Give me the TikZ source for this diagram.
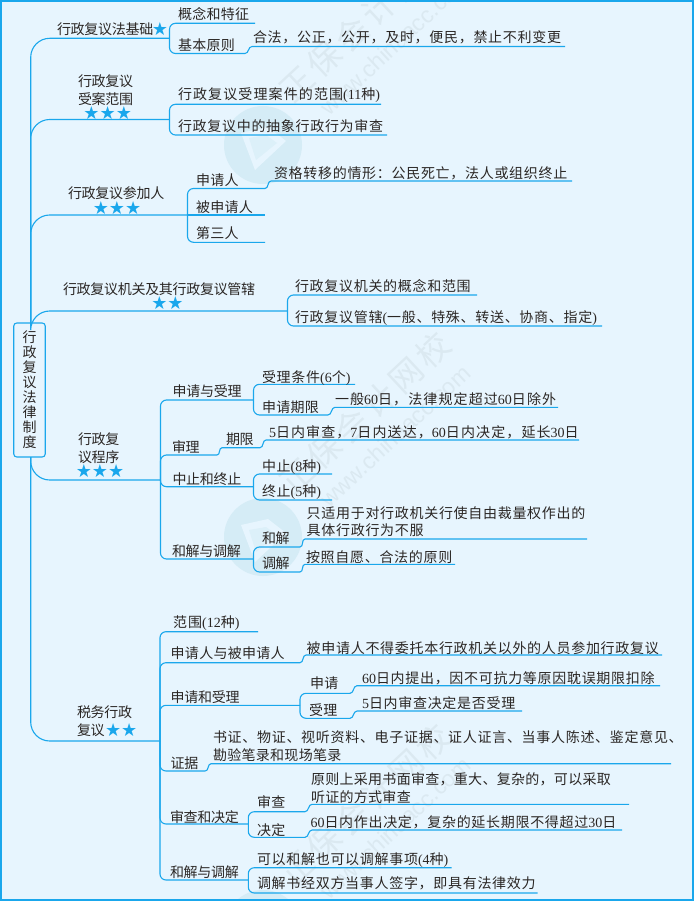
\documentclass[tikz,border=0pt]{standalone}
\usepackage{fontspec}
\setmainfont{Noto Sans CJK SC}
\newfontfamily\fwider[LetterSpace=8]{Noto Sans CJK SC}
\newfontfamily\fwide[LetterSpace=5]{Noto Sans CJK SC}
\newfontfamily\fmid[LetterSpace=2.1]{Noto Sans CJK SC}
\newfontfamily\ftight[LetterSpace=-2.1]{Noto Sans CJK SC}
\newfontfamily\fwm[LetterSpace=12]{Noto Sans CJK SC}
\newfontfamily\latf{Liberation Serif}
\newfontfamily\wmlat{Liberation Sans}
\newfontfamily\starf{DejaVu Sans}
\newcommand{\Lt}[1]{{\latf #1}}
\definecolor{bgc}{HTML}{E7F5FE}
\definecolor{wirec}{HTML}{1AA7EC}
\definecolor{inkc}{HTML}{2A2624}
\definecolor{wmc}{HTML}{DBE9F1}
\definecolor{discc}{HTML}{D5ECF6}
\tikzset{
  wire/.style={draw=wirec,line width=1.1pt,rounded corners=6pt},
  bigwire/.style={draw=wirec,line width=1.1pt,rounded corners=19pt},
  lab/.style={inner sep=0pt,outer sep=0pt,anchor=base west,text=inkc},
  wider/.style={lab,font=\fwider\fontsize{14}{15}\selectfont},
  wide/.style={lab,font=\fwide\fontsize{14}{15}\selectfont},
  mid/.style={lab,font=\fmid\fontsize{14}{15}\selectfont},
  tight/.style={lab,font=\ftight\fontsize{14}{15}\selectfont},
  rootbox/.style={draw=wirec,line width=1.1pt,rounded corners=3pt,minimum width=31.5pt,minimum height=134pt,inner sep=0pt,align=center,text=inkc,font=\fmid\fontsize{14}{15}\selectfont},
  stars/.style={inner sep=0pt,text=wirec,font=\starf\fontsize{18}{18}\selectfont},
  wmcn/.style={text=wmc,inner sep=0pt,rotate=43,font=\fwm\fontsize{33}{33}\selectfont},
  wmen/.style={text=wmc,inner sep=0pt,rotate=43,font=\wmlat\fontsize{23}{23}\selectfont},
}
\newcommand{\tx}[5]{\node[#2] (#1) at ({#3},{#4+5.3}) {#5};}
\begin{document}
\begin{tikzpicture}[x=1pt,y=-1pt]
\useasboundingbox (0,0) rectangle (694,901);
\fill[bgc] (0,0) rectangle (694,901);
% watermarks
\begin{scope}
\clip (0,0) rectangle (694,901);
\foreach \o in {-392,0,392}{
  \fill[discc] (263,{537+\o}) circle (39);
  \fill[bgc] (241,{525+\o}) -- (268,{519+\o}) -- (286,{533+\o}) -- (255,{562+\o}) -- cycle;
  \fill[discc!60!bgc] (249,{530+\o}) -- (266,{527+\o}) -- (277,{535+\o}) -- (256,{552+\o}) -- cycle;
  \node[wmcn] at (365,{413+\o}) {正保会计网校};
  \node[wmen] at (395,{436+\o}) {www.chinaacc.com};
}
\end{scope}
\draw[wirec,line width=2pt] (1,1) rectangle (693,900);

% root
\node[rootbox] (root) at (29.5,390) {行\\政\\复\\议\\法\\律\\制\\度};
\coordinate (tu) at (30.7,323);
\coordinate (td) at (30.7,457);

% branch 1
\coordinate (f1) at (169.5,38.3);
\coordinate (e11) at (255,23.3);
\coordinate (e12) at (245,53.5);
\coordinate (s12) at (252,46.5);
\coordinate (r12) at (565,46.5);
\draw[bigwire] (tu) |- (f1);
\draw[wire] (e11) -| (f1) |- (e12);
\draw[wire,rounded corners=0pt] (e12) to[out=0,in=180] (s12) -- (r12);
\tx{n1}{tight}{57}{29}{行政复议法基础}
\node[stars] (st1) at (160,29) {★};
\tx{n11}{mid}{178}{14}{概念和特征}
\tx{n12}{mid}{178}{45}{基本原则}
\tx{n121}{wide}{253}{37}{合法，公正，公开，及时，便民，禁止不利变更}

% branch 2
\coordinate (f2) at (169.5,119.5);
\coordinate (e21) at (381,104.3);
\coordinate (e22) at (387,135);
\draw[bigwire] (tu) |- (f2);
\draw[wire] (e21) -| (f2) |- (e22);
\tx{n2a}{tight}{78}{81}{行政复议}
\tx{n2b}{tight}{78}{99}{受案范围}
\node[stars] (st2) at (107.7,113) {★★★};
\tx{n21}{wider}{178}{94.5}{行政复议受理案件的范围\Lt{(11}种\Lt{)}}
\tx{n22}{wide}{178}{126}{行政复议中的抽象行政行为审查}

% branch 3
\coordinate (f3) at (187.5,215);
\coordinate (e31) at (265,188.5);
\coordinate (s31) at (271,181);
\coordinate (r31) at (572,181);
\coordinate (e32) at (265,215);
\coordinate (e33) at (265,242.3);
\draw[bigwire] (tu) |- (f3);
\draw[wire] (e31) -| (f3) |- (e33);
\draw[wire,rounded corners=0pt] (f3) -- (e32);
\draw[wire,rounded corners=0pt] (e31) to[out=0,in=180] (s31) -- (r31);
\tx{n3}{tight}{68}{193}{行政复议参加人}
\node[stars] (st3) at (117,208) {★★★};
\tx{n31}{mid}{196}{180}{申请人}
\tx{n32}{mid}{196}{207}{被申请人}
\tx{n33}{mid}{196}{233}{第三人}
\tx{n311}{wide}{274}{173}{资格转移的情形：公民死亡，法人或组织终止}

% branch 4
\coordinate (f4) at (287.5,311);
\coordinate (e41) at (477,295);
\coordinate (e42) at (602,326);
\draw[bigwire] (tu) |- (f4);
\draw[wire] (e41) -| (f4) |- (e42);
\tx{n4}{tight}{63}{289.5}{行政复议机关及其行政复议管辖}
\node[stars] (st4) at (167.5,303) {★★};
\tx{n41}{wide}{295}{286}{行政复议机关的概念和范围}
\tx{n42}{wide}{295}{317}{行政复议管辖\Lt{(}一般、特殊、转送、协商、指定\Lt{)}}

% branch 5
\coordinate (f5) at (160.5,480);
\coordinate (g51) at (253.5,400);
\coordinate (g52) at (217,455);
\coordinate (g53) at (253.5,486.7);
\coordinate (g54) at (253.5,559);
\draw[bigwire] (td) |- (f5);
\draw[wire] (f5) |- (g51);
\draw[wire] (f5) |- (g52);
\draw[wire] (f5) |- (g53);
\draw[wire] (f5) |- (g54);
\tx{n5a}{tight}{78}{439}{行政复}
\tx{n5b}{tight}{78}{457}{议程序}
\node[stars] (st5) at (100,471) {★★★};
\tx{n51}{tight}{172.7}{391}{申请与受理}
\tx{n52}{tight}{172}{446.7}{审理}
\tx{n53}{tight}{172.5}{479}{中止和终止}
\tx{n54}{tight}{172}{551}{和解与调解}
% 5.1
\coordinate (e511) at (355,384.3);
\coordinate (e512) at (328,415);
\coordinate (s512) at (335,407.3);
\coordinate (r512) at (558,407.3);
\draw[wire] (e511) -| (g51) |- (e512);
\draw[wire,rounded corners=0pt] (e512) to[out=0,in=180] (s512) -- (r512);
\tx{n511}{wide}{262}{376.7}{受理条件\Lt{(6}个\Lt{)}}
\tx{n512}{mid}{262}{406.7}{申请期限}
\tx{n5121}{wider}{335}{399}{一般\Lt{60}日，法律规定超过\Lt{60}日除外}
% 5.2
\coordinate (s521) at (222,447.7);
\coordinate (e521) at (260,447.7);
\coordinate (s522) at (266,440);
\coordinate (r522) at (579,440);
\draw[wire,rounded corners=0pt] (g52) to[out=0,in=180] (s521) -- (e521) to[out=0,in=180] (s522) -- (r522);
\tx{n521}{tight}{226}{439}{期限}
\tx{n5211}{wider}{269}{431.7}{\Lt{5}日内审查，\Lt{7}日内送达，\Lt{60}日内决定，延长\Lt{30}日}
% 5.3
\coordinate (e531) at (332,474);
\coordinate (e532) at (332,500);
\draw[wire] (e531) -| (g53) |- (e532);
\tx{n531}{wide}{262}{465.7}{中止\Lt{(8}种\Lt{)}}
\tx{n532}{wide}{262}{491}{终止\Lt{(5}种\Lt{)}}
% 5.4
\coordinate (e541) at (300,547);
\coordinate (s541) at (305,539);
\coordinate (r541) at (587,539);
\coordinate (e542) at (300,572);
\coordinate (s542) at (305,564.3);
\coordinate (r542) at (455,564.3);
\draw[wire] (e541) -| (g54) |- (e542);
\draw[wire,rounded corners=0pt] (e541) to[out=0,in=180] (s541) -- (r541);
\draw[wire,rounded corners=0pt] (e542) to[out=0,in=180] (s542) -- (r542);
\tx{n541}{tight}{262}{538}{和解}
\tx{n542}{tight}{262}{562.7}{调解}
\tx{n5411}{wide}{306.7}{512.7}{只适用于对行政机关行使自由裁量权作出的}
\tx{n5412}{wide}{306.7}{530}{具体行政行为不服}
\tx{n5421}{wide}{306}{556.7}{按照自愿、合法的原则}

% branch 6
\coordinate (f6) at (160,741);
\coordinate (e61) at (258,631.7);
\coordinate (g62) at (300,662.7);
\coordinate (g63) at (300,705.3);
\coordinate (g64) at (205.3,771);
\coordinate (g65) at (248.3,824);
\coordinate (g66) at (248.3,880);
\draw[bigwire] (td) |- (f6);
\draw[wire] (f6) |- (e61);
\draw[wire] (f6) |- (g62);
\draw[wire] (f6) |- (g63);
\draw[wire] (f6) |- (g64);
\draw[wire] (f6) |- (g65);
\draw[wire] (f6) |- (g66);
\tx{n6a}{tight}{77}{711.7}{税务行政}
\tx{n6b}{tight}{77}{730}{复议}
\node[stars] (st6) at (121.2,730) {★★};
\tx{n61}{wider}{173}{621.7}{范围\Lt{(12}种\Lt{)}}
\tx{n62}{mid}{170.7}{653}{申请人与被申请人}
\tx{n63}{tight}{170.7}{696.7}{申请和受理}
\tx{n64}{tight}{170.7}{763}{证据}
\tx{n65}{tight}{170}{816.7}{审查和决定}
\tx{n66}{tight}{170}{871.7}{和解与调解}
% 6.2
\coordinate (s62) at (306,655);
\coordinate (r62) at (662,655);
\draw[wire,rounded corners=0pt] (g62) to[out=0,in=180] (s62) -- (r62);
\tx{n621}{wide}{306.7}{648}{被申请人不得委托本行政机关以外的人员参加行政复议}
% 6.3
\coordinate (e631) at (350,693.3);
\coordinate (s631) at (357,685.7);
\coordinate (r631) at (660,685.7);
\coordinate (e632) at (350,718.3);
\coordinate (s632) at (357,711);
\coordinate (r632) at (522,711);
\draw[wire] (e631) -| (g63) |- (e632);
\draw[wire,rounded corners=0pt] (e631) to[out=0,in=180] (s631) -- (r631);
\draw[wire,rounded corners=0pt] (e632) to[out=0,in=180] (s632) -- (r632);
\tx{n631}{mid}{310}{683}{申请}
\tx{n632}{mid}{309}{710}{受理}
\tx{n6311}{wide}{362}{677.7}{\Lt{60}日内提出，因不可抗力等原因耽误期限扣除}
\tx{n6321}{wide}{362}{703.5}{\Lt{5}日内审查决定是否受理}
% 6.4
\coordinate (s64) at (211,763.7);
\coordinate (r64) at (671,763.7);
\draw[wire,rounded corners=0pt] (g64) to[out=0,in=180] (s64) -- (r64);
\tx{n641}{wide}{213}{737.3}{书证、物证、视听资料、电子证据、证人证言、当事人陈述、鉴定意见、}
\tx{n642}{mid}{213}{755}{勘验笔录和现场笔录}
% 6.5
\coordinate (e651) at (305,811.7);
\coordinate (s651) at (312,804.3);
\coordinate (r651) at (629,804.3);
\coordinate (e652) at (305,837.3);
\coordinate (s652) at (312,830);
\coordinate (r652) at (622,830);
\draw[wire] (e651) -| (g65) |- (e652);
\draw[wire,rounded corners=0pt] (e651) to[out=0,in=180] (s651) -- (r651);
\draw[wire,rounded corners=0pt] (e652) to[out=0,in=180] (s652) -- (r652);
\tx{n651}{mid}{257}{802}{审查}
\tx{n652}{mid}{257}{830}{决定}
\tx{n6511}{mid}{311}{779}{原则上采用书面审查，重大、复杂的，可以采取}
\tx{n6512}{mid}{311}{796.7}{听证的方式审查}
\tx{n6521}{wide}{310.5}{821.7}{\Lt{60}日内作出决定，复杂的延长期限不得超过\Lt{30}日}
% 6.6
\coordinate (e661) at (451.7,867.7);
\coordinate (e662) at (537.7,893);
\draw[wire] (e661) -| (g66) |- (e662);
\tx{n661}{wide}{257}{859}{可以和解也可以调解事项\Lt{(4}种\Lt{)}}
\tx{n662}{wide}{257}{883}{调解书经双方当事人签字，即具有法律效力}
\end{tikzpicture}
\end{document}
